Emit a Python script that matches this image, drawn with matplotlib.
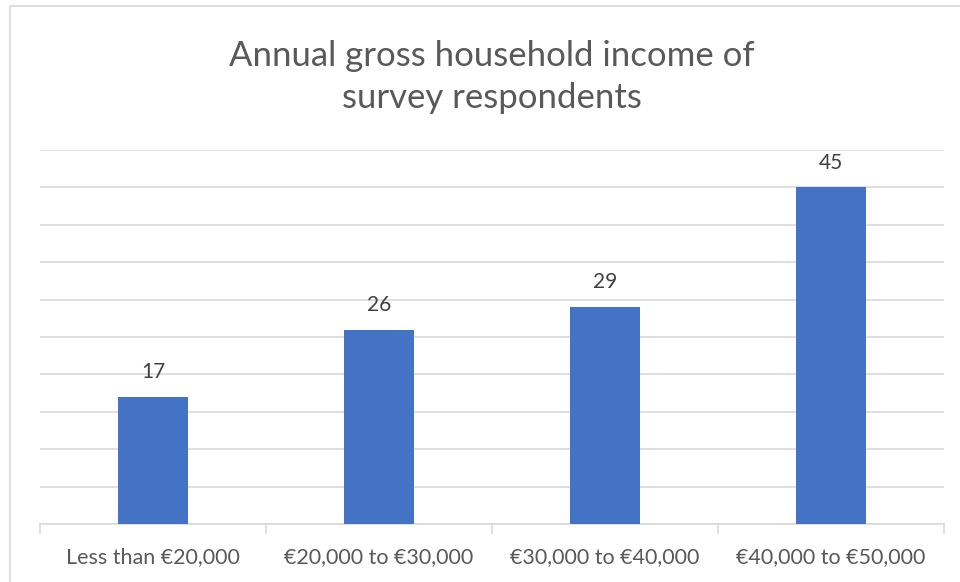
import matplotlib.pyplot as plt
from matplotlib.patches import Rectangle

categories = ['Less than €20,000', '€20,000 to €30,000', '€30,000 to €40,000', '€40,000 to €50,000']
respondents = [17, 26, 29, 45]
title = 'Annual gross household income of\nsurvey respondents'

W, H = 960, 582
fig = plt.figure(figsize=(W / 100, H / 100), dpi=100)
fig.patch.set_facecolor('white')

# light frame around the chart area
fig.patches.append(Rectangle((10 / W, -0.01), 1.0, 1 - 6 / H + 0.01, transform=fig.transFigure,
                             fill=False, edgecolor='#d9d9d9', linewidth=1.2))

ax = fig.add_axes([40 / W, (H - 524) / H, (944 - 40) / W, (524 - 150) / H])
x = range(len(categories))
bars = ax.bar(x, respondents, width=0.314, color='#4472c4', zorder=3)

ax.set_xlim(-0.5, len(categories) - 0.5)
ax.set_ylim(0, 50)
ax.set_yticks(range(0, 51, 5))
ax.yaxis.grid(True, color='#d9d9d9', linewidth=1.2, zorder=0)
ax.tick_params(axis='y', left=False, labelleft=False)

# category separators as tick marks below the baseline
ax.set_xticks([i - 0.5 for i in range(len(categories) + 1)])
ax.set_xticklabels([])
ax.tick_params(axis='x', length=7, width=1.2, color='#d9d9d9')
for i, cat in enumerate(categories):
    ax.text(i, -4.4, cat, ha='center', va='center', fontsize=15.5, family='Lato', color='#595959')

for s in ['top', 'left', 'right']:
    ax.spines[s].set_visible(False)
ax.spines['bottom'].set_color('#d9d9d9')
ax.spines['bottom'].set_linewidth(1.2)

for b, v in zip(bars, respondents):
    ax.text(b.get_x() + b.get_width() / 2, v + 3.3, str(v), ha='center', va='center',
            fontsize=15, family='Lato', color='#404040')

fig.text(492 / W, 1 - 77 / H, title, ha='center', va='center', fontsize=25,
         family='Lato', color='#595959', linespacing=1.4)

fig.savefig('out.png', dpi=100)
